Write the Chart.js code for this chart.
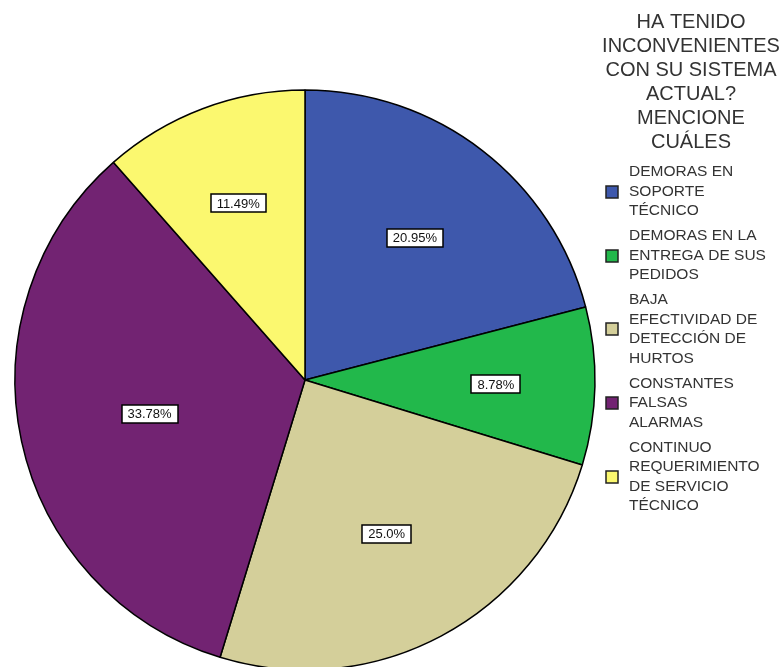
<!DOCTYPE html>
<html>
<head>
<meta charset="utf-8">
<script src="https://cdn.jsdelivr.net/npm/chart.js@4"></script>
<style>
  html, body { margin: 0; padding: 0; background: #fff; }
  #wrap { width: 783px; height: 667px; position: relative; }
</style>
</head>
<body>
<div id="wrap"><canvas id="graficoInconvenientes" width="783" height="667"></canvas></div>
<script>
// Datos de la encuesta
const titulo = ["HA TENIDO", "INCONVENIENTES", "CON SU SISTEMA", "ACTUAL?", "MENCIONE", "CUÁLES"];
const categorias = [
  ["DEMORAS EN", "SOPORTE", "TÉCNICO"],
  ["DEMORAS EN LA", "ENTREGA DE SUS", "PEDIDOS"],
  ["BAJA", "EFECTIVIDAD DE", "DETECCIÓN DE", "HURTOS"],
  ["CONSTANTES", "FALSAS", "ALARMAS"],
  ["CONTINUO", "REQUERIMIENTO", "DE SERVICIO", "TÉCNICO"]
];
const porcentajes = [20.95, 8.78, 25.0, 33.78, 11.49];
const colores = ["#3e58ac", "#22b84b", "#d4cf9a", "#722372", "#fbf86f"];

function formatoPct(v) {
  return v.toFixed(2).replace(/0$/, "") + "%";
}

// Etiquetas de porcentaje en el centroide de cada porción
const etiquetasPlugin = {
  id: "etiquetas",
  afterDatasetsDraw(chart) {
    const ctx = chart.ctx;
    const meta = chart.getDatasetMeta(0);
    ctx.save();
    ctx.font = "13px 'Liberation Sans', Arial, sans-serif";
    ctx.textAlign = "center";
    ctx.textBaseline = "middle";
    meta.data.forEach((arc, i) => {
      const p = arc.getProps(["x", "y", "startAngle", "endAngle", "outerRadius"], true);
      const mid = (p.startAngle + p.endAngle) / 2;
      const half = (p.endAngle - p.startAngle) / 2;
      const r = (2 / 3) * p.outerRadius * Math.sin(half) / half;
      const x = p.x + Math.cos(mid) * r;
      const y = p.y + Math.sin(mid) * r;
      const txt = formatoPct(porcentajes[i]);
      const w = Math.round(ctx.measureText(txt).width + 12);
      const h = 18;
      const bx = Math.round(x - w / 2), by = Math.round(y - h / 2);
      ctx.fillStyle = "#fff";
      ctx.fillRect(bx, by, w, h);
      ctx.strokeStyle = "#000";
      ctx.lineWidth = 1.5;
      ctx.strokeRect(bx, by, w, h);
      ctx.fillStyle = "#111";
      ctx.fillText(txt, x, y + 1);
    });
    ctx.restore();
  }
};

// Título y leyenda a la derecha
const leyendaPlugin = {
  id: "leyenda",
  afterDraw(chart) {
    const ctx = chart.ctx;
    ctx.save();
    ctx.textBaseline = "middle";
    ctx.fillStyle = "#333";
    ctx.font = "20px 'Liberation Sans', Arial, sans-serif";
    ctx.textAlign = "center";
    titulo.forEach((t, i) => ctx.fillText(t, 691, 22 + i * 24));

    ctx.font = "15.5px 'Liberation Sans', Arial, sans-serif";
    ctx.textAlign = "left";
    const lh = 19.5;
    let y = 172;
    categorias.forEach((lineas, i) => {
      const cy = y + (lineas.length - 1) * lh / 2;
      ctx.fillStyle = colores[i];
      ctx.fillRect(606, Math.round(cy - 6), 12, 12);
      ctx.strokeStyle = "#222";
      ctx.lineWidth = 1.5;
      ctx.strokeRect(606, Math.round(cy - 6), 12, 12);
      ctx.fillStyle = "#333";
      lineas.forEach((l, j) => ctx.fillText(l, 629, y + j * lh));
      y += (lineas.length - 1) * lh + 25;
    });
    ctx.restore();
  }
};

const ctx = document.getElementById("graficoInconvenientes").getContext("2d");
new Chart(ctx, {
  type: "pie",
  data: {
    labels: categorias.map(c => c.join(" ")),
    datasets: [{
      data: porcentajes,
      backgroundColor: colores,
      borderColor: "#000",
      borderWidth: 1.5,
      clip: false
    }]
  },
  options: {
    responsive: false,
    animation: false,
    radius: 290,
    layout: { padding: { left: 15, right: 188, top: 93, bottom: 0 } },
    plugins: {
      legend: { display: false },
      tooltip: { enabled: false }
    }
  },
  plugins: [etiquetasPlugin, leyendaPlugin]
});
</script>
</body>
</html>
